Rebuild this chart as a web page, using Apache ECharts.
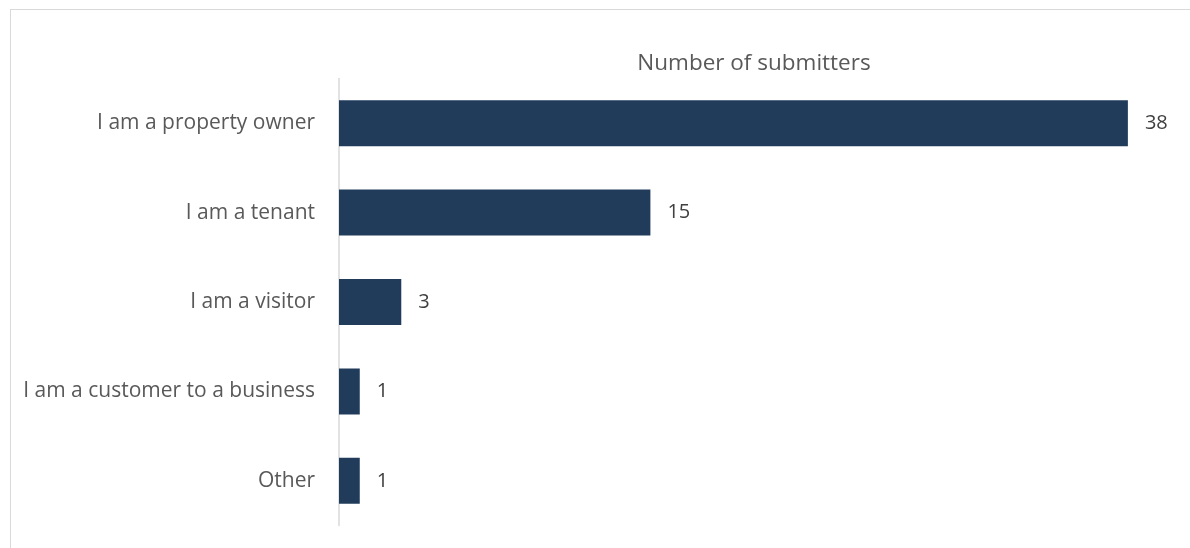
<!DOCTYPE html>
<html>
<head>
<meta charset="utf-8">
<script src="https://cdn.jsdelivr.net/npm/echarts@6/dist/echarts.min.js"></script>
<style>
  html, body { margin:0; padding:0; background:#fff; }
  #chart { width:1190px; height:548px; }
  .frame { position:absolute; left:10px; top:9px; width:1200px; height:560px; border:1px solid #d9d9d9; box-sizing:border-box; pointer-events:none; }
</style>
</head>
<body>
<div id="chart"></div>
<div class="frame"></div>
<script>
// categories top to bottom
var categories = ['I am a property owner', 'I am a tenant', 'I am a visitor', 'I am a customer to a business', 'Other'];
var submitters = [38, 15, 3, 1, 1];

var myChart = echarts.init(document.getElementById('chart'));
var option = {
  animation: false,
  title: {
    text: 'Number of submitters',
    left: 749,
    top: 47,
    textAlign: 'center',
    textStyle: { color: '#595959', fontSize: 22.5, fontWeight: 'normal', fontFamily: 'Open Sans' }
  },
  grid: { left: 339, right: 20.6, top: 78.5, bottom: 22.5 },
  xAxis: {
    type: 'value',
    min: 0,
    max: 40,
    show: false
  },
  yAxis: {
    type: 'category',
    inverse: true,
    data: categories,
    axisLine: { lineStyle: { color: '#d9d9d9', width: 1.5 } },
    axisTick: { show: false },
    axisLabel: { color: '#595959', fontSize: 21, fontFamily: 'Open Sans', margin: 24 }
  },
  series: [{
    type: 'bar',
    data: submitters,
    barWidth: 46,
    itemStyle: { color: '#203c5a' },
    label: {
      show: true,
      position: 'right',
      distance: 17,
      color: '#404040',
      fontSize: 20,
      fontFamily: 'Open Sans'
    }
  }]
};
myChart.setOption(option);
</script>
</body>
</html>
